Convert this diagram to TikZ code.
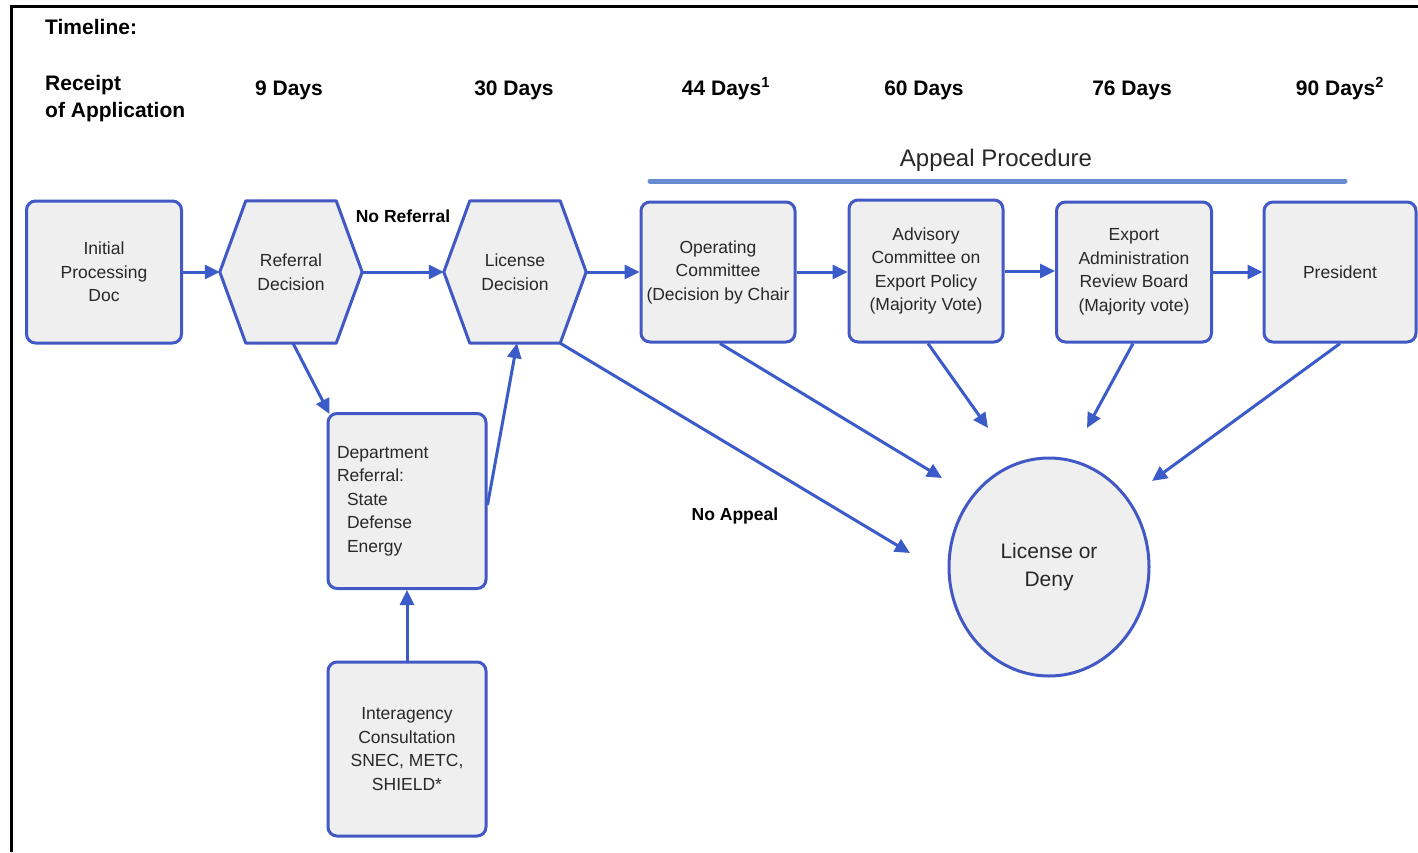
\documentclass[tikz,border=0pt]{standalone}
\usepackage{fontspec}
\setmainfont{Liberation Sans}
\usetikzlibrary{arrows.meta,backgrounds,calc,shapes.geometric}
\definecolor{bord}{RGB}{66,88,196}
\definecolor{arr}{RGB}{59,91,201}
\definecolor{boxfill}{RGB}{239,239,239}
\definecolor{appeal}{RGB}{104,140,210}
\definecolor{boxtext}{RGB}{40,40,40}
\newcommand\boxfont{\fontsize{17.5}{23.5}\selectfont}
\newcommand\tlfont{\fontsize{21}{27}\selectfont\bfseries}
\begin{document}
\begin{tikzpicture}[x=1pt,y=-1pt,
  box/.style={draw=bord, line width=3pt, fill=boxfill, rounded corners=9pt, text=boxtext,
    minimum width=155pt, minimum height=142pt, align=center, font=\boxfont, inner sep=0pt},
  hexnode/.style={minimum width=142pt, minimum height=142pt, align=center, font=\boxfont, inner sep=0pt, text=boxtext},
  hexline/.style={draw=bord, line width=3pt, fill=boxfill, line join=round},
  conn/.style={draw=arr, line width=3pt, -{Triangle[length=15pt,width=14pt]}},
  tl/.style={font=\tlfont, inner sep=0pt, anchor=base},
  lbl/.style={font=\fontsize{17.5}{21}\selectfont\bfseries, inner sep=0pt, anchor=base}]
\useasboundingbox (0,0) rectangle (1418,852);
% frame
\draw[black, line width=3pt] (11,852) -- (11,6) -- (1418,6);

% timeline
\node[font=\tlfont, inner sep=0pt, anchor=base west] (tline) at (45,34) {Timeline:};
\node[font=\tlfont, inner sep=0pt, anchor=west, align=left] (receipt) at (45,99) {Receipt\\of Application};
\node[tl] (d9)  at (289,95) {9 Days};
\node[tl] (d30) at (514,95) {30 Days};
\node[tl] (d44) at (726,95) {44 Days\textsuperscript{1}};
\node[tl] (d60) at (924,95) {60 Days};
\node[tl] (d76) at (1132,95) {76 Days};
\node[tl] (d90) at (1340,95) {90 Days\textsuperscript{2}};

% appeal procedure
\node[font=\fontsize{24}{28}\selectfont, inner sep=0pt, anchor=base, text=boxtext] (appeal) at (996,166) {Appeal Procedure};
\coordinate (apL) at (650,181);
\coordinate (apR) at (1345,181);
\draw[appeal, line width=5pt, line cap=round] (apL) -- (apR);

% nodes
\node[box] (init) at (104,272) {Initial\\Processing\\Doc};
\node[hexnode] (ref) at (291,272) {Referral\\Decision};
\node[hexnode] (lic) at (515,272) {License\\Decision};
\node[box, minimum width=154pt, minimum height=140pt] (op) at (718,272) {Operating\\Committee\\(Decision by Chair};
\node[box, minimum width=154pt, minimum height=142pt] (adv) at (926,271) {Advisory\\Committee on\\Export Policy\\(Majority Vote)};
\node[box, minimum width=155pt, minimum height=140pt] (exp) at (1134,272) {Export\\Administration\\Review Board\\(Majority vote)};
\node[box, minimum width=152pt, minimum height=140pt] (pres) at (1340,272) {President};
\node[box, minimum width=158pt, minimum height=175pt, align=left, text width=140pt] (dept) at (407,501)
  {Department\\Referral:\\\hspace*{10pt}State\\\hspace*{10pt}Defense\\\hspace*{10pt}Energy};
\node[box, minimum width=158pt, minimum height=174pt] (inter) at (407,749) {Interagency\\Consultation\\SNEC, METC,\\SHIELD*};
\node[draw=bord, line width=3pt, fill=boxfill, ellipse, minimum width=200pt, minimum height=218pt, text=boxtext,
  align=center, inner sep=0pt, font=\fontsize{21}{28}\selectfont] (dec) at (1049,567) {License or\\Deny};

% hexagon outlines
\begin{scope}[on background layer]
\foreach \h in {ref,lic}{
  \draw[hexline] ([xshift=26pt]\h.north west) -- ([xshift=-26pt]\h.north east) -- (\h.east)
    -- ([xshift=-26pt]\h.south east) -- ([xshift=26pt]\h.south west) -- (\h.west) -- cycle;
}
\end{scope}

% connectors along the top row
\draw[conn] (init.east) -- (ref.west);
\draw[conn] (ref.east) -- (lic.west);
\node[lbl] (noref) at (403,222) {No Referral};
\draw[conn] (lic.east) -- (op.west);
\draw[conn] (op.east) -- (op.east -| adv.west);
\draw[conn] (adv.east) -- (adv.east -| exp.west);
\draw[conn] (exp.east) -- (pres.west);

% referral branch
\draw[conn] ([xshift=2pt]ref.south) -- ([xshift=3pt,yshift=-2pt]dept.north west);
\draw[conn] ([yshift=-4pt]dept.east) -- ([xshift=2pt]lic.south);
\draw[conn] (inter.north) -- (dept.south);

% to decision
\coordinate (eNA) at (910,553);
\coordinate (eOp) at (942,478);
\coordinate (eAd) at (988,428);
\coordinate (eEx) at (1087,428);
\coordinate (ePr) at (1152,481);
\draw[conn] ([xshift=-26pt]lic.south east) -- (eNA);
\node[lbl] (noapp) at (735,520) {No Appeal};
\draw[conn] ([xshift=2pt]op.south) -- (eOp);
\draw[conn] ([xshift=2pt]adv.south) -- (eAd);
\draw[conn] ([xshift=-1pt]exp.south) -- (eEx);
\draw[conn] (pres.south) -- (ePr);
\end{tikzpicture}
\end{document}
